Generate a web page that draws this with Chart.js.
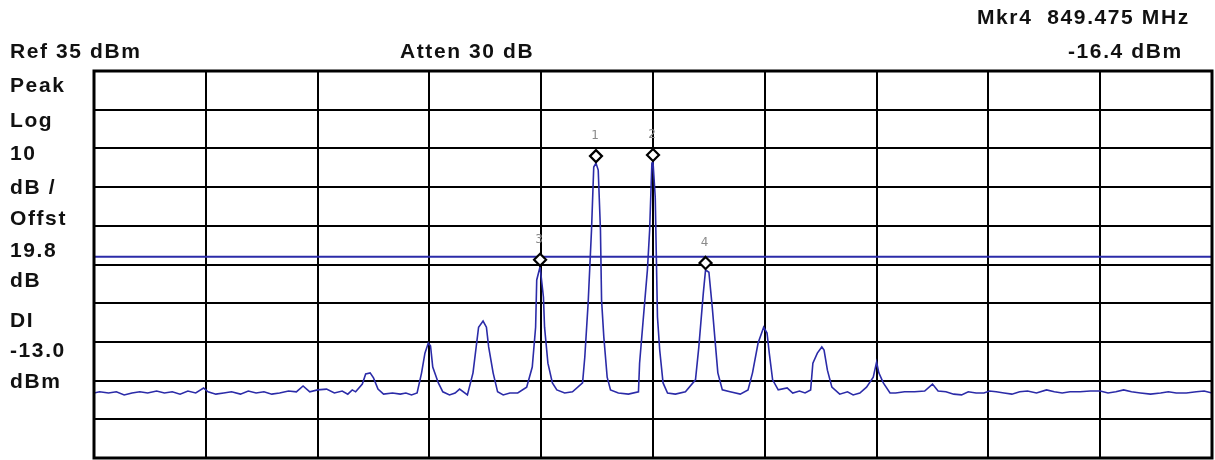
<!DOCTYPE html>
<html>
<head>
<meta charset="utf-8">
<script src="https://cdn.jsdelivr.net/npm/chart.js@4/dist/chart.umd.min.js"></script>
<style>
  html, body { margin: 0; padding: 0; background: #fff; }
  #wrap { position: relative; width: 1215px; height: 460px; overflow: hidden; }
  #wrap canvas { position: absolute; left: 0; top: 0; }
  .lbl {
    position: absolute; white-space: pre; color: #111;
    font: bold 21px "Liberation Sans", Arial, sans-serif;
    line-height: 24px; letter-spacing: 1.6px;
  }
</style>
</head>
<body>
<div id="wrap">
  <canvas id="c" width="1215" height="460"></canvas>
  <div class="lbl" style="left:10px;top:39px">Ref 35 dBm</div>
  <div class="lbl" style="left:400px;top:39px">Atten 30 dB</div>
  <div class="lbl" style="left:977px;top:5px">Mkr4  849.475 MHz</div>
  <div class="lbl" style="left:1068px;top:39px">-16.4 dBm</div>
  <div class="lbl" style="left:10px;top:73px">Peak</div>
  <div class="lbl" style="left:10px;top:108px">Log</div>
  <div class="lbl" style="left:10px;top:141px">10</div>
  <div class="lbl" style="left:10px;top:175px">dB /</div>
  <div class="lbl" style="left:10px;top:206px">Offst</div>
  <div class="lbl" style="left:10px;top:238px">19.8</div>
  <div class="lbl" style="left:10px;top:268px">dB</div>
  <div class="lbl" style="left:10px;top:308px">DI</div>
  <div class="lbl" style="left:10px;top:338px">-13.0</div>
  <div class="lbl" style="left:10px;top:369px">dBm</div>
</div>
<script>
// Trace des Spektrumanalysators: x in Rasterteilungen (0..10), y in dBm
const traceDiv = [
  0.00, 0.05, 0.13, 0.20, 0.27, 0.34, 0.41, 0.48, 0.56, 0.63, 0.70, 0.77, 0.84, 0.91, 0.98,
  1.02, 1.09, 1.16, 1.23, 1.31, 1.38, 1.45, 1.52, 1.59, 1.66, 1.74, 1.81, 1.87, 1.93,
  2.00, 2.08, 2.15, 2.22, 2.27, 2.31, 2.34, 2.40, 2.43, 2.47, 2.50, 2.54, 2.59, 2.67, 2.74,
  2.79, 2.84, 2.89, 2.93, 2.96, 2.99, 3.01, 3.03, 3.08, 3.12, 3.18, 3.23, 3.27, 3.34,
  3.39, 3.44, 3.48, 3.51, 3.53, 3.57, 3.61, 3.66, 3.72, 3.79, 3.87, 3.92, 3.95, 3.96,
  3.99, 4.02, 4.03, 4.06, 4.10, 4.14, 4.21, 4.28, 4.37, 4.39, 4.42, 4.45, 4.47, 4.49,
  4.51, 4.53, 4.54, 4.56, 4.59, 4.62, 4.69, 4.78, 4.87, 4.88, 4.91, 4.95, 4.97, 4.99,
  5.00, 5.02, 5.03, 5.04, 5.06, 5.09, 5.13, 5.20, 5.29, 5.38, 5.41, 5.45, 5.47, 5.50,
  5.53, 5.56, 5.58, 5.62, 5.69, 5.78, 5.85, 5.89, 5.94, 5.99, 6.02, 6.04, 6.07, 6.12,
  6.20, 6.25, 6.31, 6.36, 6.41, 6.43, 6.47, 6.51, 6.53, 6.56, 6.60, 6.67, 6.74, 6.79,
  6.85, 6.91, 6.97, 7.00, 7.02, 7.06, 7.12, 7.17, 7.25, 7.34, 7.43, 7.50, 7.55, 7.62,
  7.69, 7.76, 7.82, 7.89, 7.96, 8.01, 8.07, 8.14, 8.21, 8.28, 8.35, 8.43, 8.52, 8.59,
  8.66, 8.73, 8.82, 8.91, 9.00, 9.07, 9.14, 9.21, 9.28, 9.36, 9.45, 9.54, 9.61, 9.68,
  9.77, 9.86, 9.93, 10.00,
];
const traceDbm = [
  -48.2, -47.9, -48.2, -47.9, -48.7, -48.2, -47.9, -48.2, -47.7, -48.2, -47.9, -48.5, -47.7, -48.2, -46.9,
  -47.9, -48.5, -48.2, -47.9, -48.5, -47.7, -48.2, -47.9, -48.5, -48.2, -47.7, -47.9, -46.4, -47.9,
  -47.4, -47.2, -48.2, -47.7, -48.5, -47.4, -47.9, -45.9, -43.3, -43.0, -44.3, -47.2, -48.5, -48.2, -48.5,
  -48.2, -48.7, -48.2, -43.0, -37.9, -35.3, -36.0, -41.5, -45.6, -47.9, -48.7, -48.2, -47.2, -48.7,
  -43.0, -31.2, -29.6, -31.2, -36.3, -43.0, -47.9, -48.7, -48.2, -48.2, -46.7, -41.5, -31.2, -19.0,
  -15.6, -23.4, -31.2, -40.5, -45.6, -47.4, -48.2, -47.9, -45.6, -38.9, -24.9, -6.1, 10.2, 11.2,
  9.4, -6.1, -24.2, -33.7, -44.1, -47.4, -48.2, -48.5, -47.9, -40.5, -30.1, -16.4, -6.1, 11.2,
  11.5, 2.4, -13.1, -28.6, -37.1, -45.6, -48.2, -48.5, -47.9, -44.8, -36.3, -22.4, -16.4, -17.0,
  -26.0, -36.3, -43.0, -47.4, -47.9, -48.5, -47.4, -43.0, -35.3, -31.2, -32.7, -37.9, -44.8, -47.4,
  -46.9, -48.2, -47.7, -48.2, -47.4, -40.5, -37.9, -36.3, -37.1, -42.3, -46.7, -48.5, -47.9, -48.7,
  -48.2, -46.7, -44.1, -40.2, -43.0, -45.6, -48.2, -48.2, -47.9, -47.9, -47.7, -45.9, -47.7, -47.9,
  -48.5, -48.7, -47.9, -48.2, -48.2, -47.7, -47.9, -48.2, -48.5, -47.9, -47.7, -48.2, -47.4, -47.9,
  -48.2, -47.9, -47.9, -47.7, -47.7, -48.2, -47.9, -47.4, -47.9, -48.2, -48.5, -48.2, -47.9, -48.2,
  -48.2, -47.9, -47.7, -48.2,
];

// Marker (Position der Spitze)
const markerNames = ['1', '2', '3', '4'];
const markerDiv = [4.49, 5.00, 3.99, 5.47];
const markerDbm = [11.2, 11.5, -15.6, -16.4];

// Referenzpegel und Display-Linie
const refLevel = 35;
const dbPerDiv = 10;
const displayLine = -13.0;

const traceColor = '#2b2ba8';

// Rahmen, Marker-Rauten und Markernummern
const analyzerPlugin = {
  id: 'analyzer',
  afterDatasetsDraw(chart) {
    const { ctx, chartArea: a, scales } = chart;
    ctx.save();
    markerNames.forEach((name, i) => {
      const px = scales.x.getPixelForValue(markerDiv[i]);
      const py = scales.y.getPixelForValue(markerDbm[i]) - 7;
      ctx.beginPath();
      ctx.moveTo(px, py - 6);
      ctx.lineTo(px + 6, py);
      ctx.lineTo(px, py + 6);
      ctx.lineTo(px - 6, py);
      ctx.closePath();
      ctx.fillStyle = '#fff';
      ctx.fill();
      ctx.lineWidth = 2.2;
      ctx.strokeStyle = '#000';
      ctx.stroke();
      ctx.fillStyle = '#8a8a8a';
      ctx.font = '12px "DejaVu Sans", sans-serif';
      ctx.textAlign = 'center';
      ctx.fillText(name, px - 1, py - 17);
    });
    ctx.lineWidth = 3;
    ctx.strokeStyle = '#000';
    ctx.strokeRect(a.left, a.top, a.right - a.left, a.bottom - a.top);
    ctx.restore();
  },
};

new Chart(document.getElementById('c'), {
  type: 'line',
  data: {
    datasets: [
      {
        label: 'Display Line',
        data: [{ x: 0, y: displayLine }, { x: 10, y: displayLine }],
        borderColor: traceColor,
        borderWidth: 1.8,
        pointRadius: 0,
      },
      {
        label: 'Trace',
        data: traceDiv.map((x, i) => ({ x, y: traceDbm[i] })),
        borderColor: traceColor,
        borderWidth: 1.6,
        pointRadius: 0,
        tension: 0,
      },
    ],
  },
  options: {
    responsive: false,
    animation: false,
    layout: { padding: { left: 94, top: 71, right: 3, bottom: 2 } },
    scales: {
      x: {
        type: 'linear', min: 0, max: 10,
        ticks: { display: false, stepSize: 1 },
        grid: { color: '#000', lineWidth: 2, drawTicks: false },
        border: { display: false },
      },
      y: {
        min: refLevel - 10 * dbPerDiv, max: refLevel,
        ticks: { display: false, stepSize: dbPerDiv },
        grid: { color: '#000', lineWidth: 2, drawTicks: false },
        border: { display: false },
      },
    },
    plugins: {
      legend: { display: false },
      tooltip: { enabled: false },
    },
  },
  plugins: [analyzerPlugin],
});
</script>
</body>
</html>
